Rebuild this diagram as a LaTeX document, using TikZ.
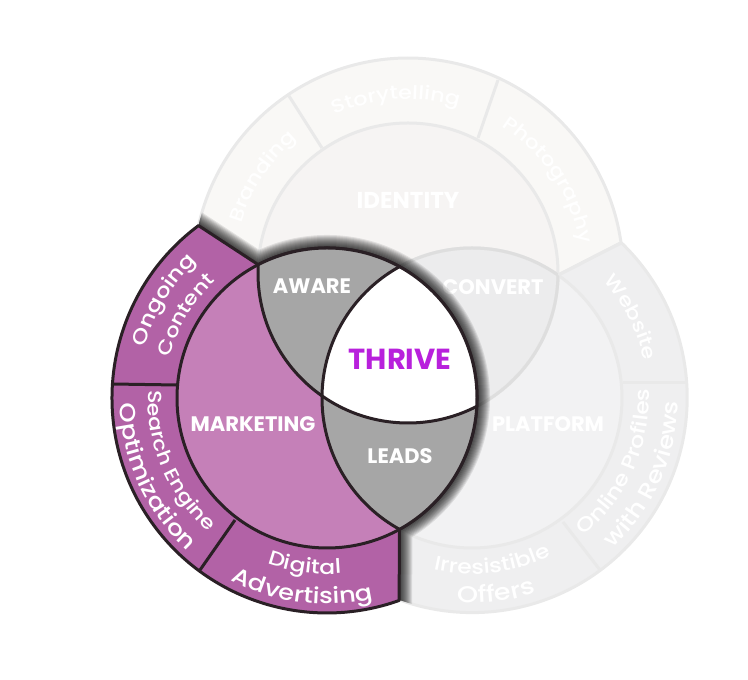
\documentclass[tikz,border=0pt]{standalone}
\usepackage{fontspec}
\setsansfont{Poppins}
\newfontface\ringface[FakeStretch=1.17]{Poppins Medium}
\usetikzlibrary{calc,decorations.text}
\definecolor{markring}{HTML}{B262A6}
\definecolor{markfill}{HTML}{C580B8}
\definecolor{overlap}{HTML}{A6A6A6}
\definecolor{darkline}{HTML}{2A2025}
\definecolor{thrivetext}{HTML}{B820DC}
\definecolor{idring}{HTML}{F9F8F6}
\definecolor{idfill}{HTML}{F6F4F3}
\definecolor{platring}{HTML}{EFEFF0}
\definecolor{platfill}{HTML}{F2F2F3}
\definecolor{convfill}{HTML}{ECECED}
\definecolor{fadeline}{HTML}{E9E9E9}
\definecolor{convline}{HTML}{DEDEDE}
\tikzset{
	darkedge/.style = {draw=darkline, line width=3pt, line join=round},
	fadeedge/.style = {draw=fadeline, line width=3pt, line join=round},
	biglabel/.style = {text=white, font=\sffamily\bfseries\fontsize{21}{21}\selectfont}
}
\newcommand{\ringfont}[1]{\ringface\fontsize{#1}{#1}\selectfont\color{white}}
\newcommand{\cwlabel}[5]{\path[decorate,decoration={text along path,text align=center,
	text={|\ringfont{#1}|#5}}] ($(#2)+(#4+50:#3)$) arc[start angle=#4+50,end angle=#4-50,radius=#3];}
\newcommand{\ccwlabel}[5]{\path[decorate,decoration={text along path,text align=center,
	text={|\ringfont{#1}|#5}}] ($(#2)+(#4-50:#3)$) arc[start angle=#4-50,end angle=#4+50,radius=#3];}
\newcommand{\identityshape}{(tipA) arc[start angle=167.25,end angle=8.09,radius=215] -- (ipB) arc[start angle=-0.8,end angle=-183.2,radius=150] -- cycle}
\newcommand{\platformshape}{(tipB) arc[start angle=46.1,end angle=-109.8,radius=215] -- (mpB) arc[start angle=-118.9,end angle=-305,radius=150] -- cycle}
\newcommand{\marketingshape}{(tipA) arc[start angle=126.7,end angle=289.6,radius=215] -- (mpB) arc[start angle=-61.1,end angle=117.3,radius=150] -- cycle}

\begin{document}
\begin{tikzpicture}[x=1pt,y=1pt]
	\useasboundingbox (0,0) rectangle (748,680);
	\coordinate (cM) at (327,282);
	\coordinate (cP) at (472,282);
	\coordinate (cI) at (408,407);
	\coordinate (tipA) at (198.5,454.4);
	\coordinate (tipB) at (621.3,437.3);
	\coordinate (tipC) at (399,79.5);
	\coordinate (ipB) at (558,404.9);
	\coordinate (mpB) at (399.5,150.7);

	\fill[idring] \identityshape;
	\fill[platring] \platformshape;
	\fill[idfill] (cI) circle (150);
	\fill[platfill] (cP) circle (150);
	\begin{scope}
		\clip (cI) circle (150);
		\fill[convfill] (cP) circle (150);
	\end{scope}
	\draw[fadeedge] \identityshape;
	\draw[fadeedge] \platformshape;
	\draw[fadeedge] (cI) circle (150);
	\draw[fadeedge] (cP) circle (150);
	\begin{scope}
		\clip (cI) circle (150);
		\draw[draw=convline, line width=3pt] (cP) circle (150);
	\end{scope}
	\begin{scope}
		\clip (cP) circle (150);
		\draw[draw=convline, line width=3pt] (cI) circle (150);
	\end{scope}
	\coordinate (sepA1) at (289,584);
	\coordinate (sepA2) at (322,532);
	\coordinate (sepB1) at (498,600);
	\coordinate (sepB2) at (478,542);
	\coordinate (sepC1) at (623,297);
	\coordinate (sepC2) at (688,297);
	\coordinate (sepD1) at (563,158);
	\coordinate (sepD2) at (600,110);
	\draw[fadeedge] (sepA1) -- (sepA2);
	\draw[fadeedge] (sepB1) -- (sepB2);
	\draw[fadeedge] (sepC1) -- (sepC2);
	\draw[fadeedge] (sepD1) -- (sepD2);

	\node[biglabel, font=\sffamily\bfseries\fontsize{23}{23}\selectfont] (identity) at (408,480) {IDENTITY};
	\node[biglabel] (convert) at (493,393) {CONVERT};
	\node[biglabel] (platform) at (548,256) {PLATFORM};
	\cwlabel{19}{cI}{174}{146.5}{Branding}
	\cwlabel{19}{cI}{174}{94}{Storytelling}
	\cwlabel{19}{cI}{174}{33.5}{Photography}
	\cwlabel{19}{cP}{176}{27}{Website}
	\ccwlabel{20}{cP}{177}{-24}{Online Profiles}
	\ccwlabel{22}{cP}{206}{-24}{with Reviews}
	\ccwlabel{20}{cP}{176}{-83}{Irresistible}
	\ccwlabel{23}{cP}{205}{-83}{Offers}

	\begin{scope}
		\clip \identityshape \platformshape;
		\foreach \w in {2,4,...,26}
			\draw[black, opacity=0.09, line width=\w pt] \marketingshape (cM) circle (150);
	\end{scope}

	\fill[markring] \marketingshape;
	\draw[darkedge] \marketingshape;
	\fill[markfill] (cM) circle (150);
	\begin{scope}
		\clip (cM) circle (150);
		\fill[overlap] (cI) circle (150);
		\fill[overlap] (cP) circle (150);
		\clip (cI) circle (150);
		\fill[white] (cP) circle (150);
	\end{scope}
	\begin{scope}
		\clip (cM) circle (150);
		\draw[darkedge] (cI) circle (150);
		\draw[darkedge] (cP) circle (150);
	\end{scope}
	\draw[darkedge] (cM) circle (150);
	\coordinate (sepE1) at (112,296);
	\coordinate (sepE2) at (177,295);
	\coordinate (sepF1) at (200,110);
	\coordinate (sepF2) at (235,160);
	\draw[darkedge] (sepE1) -- (sepE2);
	\draw[darkedge] (sepF1) -- (sepF2);

	\node[biglabel] (aware) at (312,394) {AWARE};
	\node[biglabel] (marketing) at (253,256) {MARKETING};
	\node[biglabel] (leads) at (400,224) {LEADS};
	\node[biglabel, text=thrivetext, font=\sffamily\bfseries\fontsize{29}{29}\selectfont] (thrive) at (400,321) {THRIVE};
	\cwlabel{20}{cM}{189}{149}{Ongoing}
	\cwlabel{19}{cM}{162}{149.5}{Content}
	\ccwlabel{19}{cM}{179}{203}{Search Engine}
	\ccwlabel{22}{cM}{207}{204.7}{Optimization}
	\ccwlabel{20}{cM}{176}{262.4}{Digital}
	\ccwlabel{22}{cM}{206}{262.6}{Advertising}
\end{tikzpicture}
\end{document}
